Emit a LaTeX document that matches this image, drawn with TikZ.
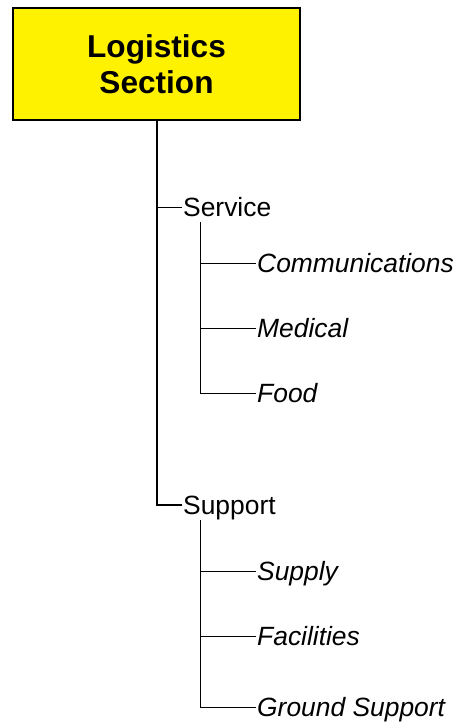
\documentclass[tikz,border=0pt]{standalone}
\usepackage{fontspec}
\setmainfont{Liberation Sans}
\usetikzlibrary{positioning}

\begin{document}
\begin{tikzpicture}[x=1pt, y=-1pt, font=\fontsize{26.4}{30}\selectfont,
    unit/.style={anchor=west, inner sep=1pt, text height=18.9pt, text depth=0pt},
    task/.style={unit, font=\fontsize{26.4}{30}\selectfont\itshape}]
    \useasboundingbox (0,0) rectangle (458,722);
    \node[draw, line width=1.5pt, fill=yellow, minimum width=287pt, minimum height=112pt,
        align=center, font=\fontsize{31.6}{36}\selectfont\bfseries] (chief) at (156.5,64) {Logistics\\Section};
    % branches
    \node[unit] (service) at (182,207) {Service};
    \node[unit] (support) at (182,505) {Support};
    \node[task] (comms) at (256,263) {Communications};
    \node[task] (medical) at (256,328) {Medical};
    \node[task] (food) at (256,393) {Food};
    \node[task] (supply) at (256,571) {Supply};
    \node[task] (facilities) at (256,636) {Facilities};
    \node[task] (ground) at (256,707) {Ground Support};
    \coordinate (svcroot) at (200,222);
    \coordinate (suproot) at (200,520);
    % connectors
    \draw[line width=2pt] (chief.south) |- (support.west);
    \draw[line width=1pt] (chief.south |- service.west) -- (service.west);
    \foreach \n in {comms, medical, food}
        \draw[line width=0.8pt] (svcroot) |- (\n.west);
    \foreach \n in {supply, facilities, ground}
        \draw[line width=0.8pt] (suproot) |- (\n.west);
\end{tikzpicture}
\end{document}
